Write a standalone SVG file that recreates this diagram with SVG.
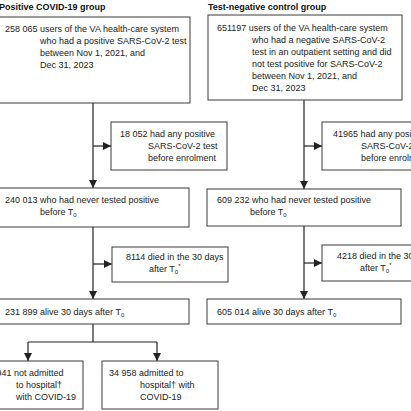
<svg xmlns="http://www.w3.org/2000/svg" width="411" height="411" viewBox="0 0 411 411">
<defs>
<marker id="ah" viewBox="0 0 8 8" refX="8" refY="4" markerWidth="8" markerHeight="8" markerUnits="userSpaceOnUse" orient="auto">
<path d="M0,0 L8,4 L0,8 Z" fill="#222"/>
</marker>
<style>
.box{fill:#fff;stroke:#3a3a3a;stroke-width:1}
.t{font-family:"Liberation Sans",Arial,sans-serif;font-size:9px;fill:#222}
.h{font-family:"Liberation Sans",Arial,sans-serif;font-size:9px;font-weight:bold;fill:#111}
.c{fill:none;stroke:#222;stroke-width:1.2}
.a{marker-end:url(#ah)}
.sub{font-size:6px}
</style>
</defs>
<rect width="411" height="411" fill="#fff"/>
<text class="h" x="-1" y="10">Positive COVID-19 group</text>
<text class="h" x="208" y="10">Test-negative control group</text>

<g id="connectors">
<path class="c a" d="M93,103 V188"/>
<path class="c a" d="M93,146 H111"/>
<path class="c a" d="M93,227 V299"/>
<path class="c a" d="M93,264 H112"/>
<path class="c" d="M93,324 V342 M28,342 H157"/>
<path class="c a" d="M28,342 V361"/>
<path class="c a" d="M157,342 V361"/>
<path class="c a" d="M304,100 V189"/>
<path class="c a" d="M304,146 H322"/>
<path class="c a" d="M304,226 V299"/>
<path class="c a" d="M304,263 H322"/>
</g>

<g id="n1">
<rect class="box" x="-10" y="17" width="200" height="86"/>
<text class="t" x="5" y="32">258 065 users of the VA health-care system</text>
<text class="t" x="40" y="44">who had a positive SARS-CoV-2 test</text>
<text class="t" x="40" y="56">between Nov 1, 2021, and</text>
<text class="t" x="40" y="68">Dec 31, 2023</text>
</g>
<g id="n2">
<rect class="box" x="111" y="122" width="116" height="48"/>
<text class="t" x="120" y="137">18 052 had any positive</text>
<text class="t" x="148" y="149">SARS-CoV-2 test</text>
<text class="t" x="148" y="161">before enrolment</text>
</g>
<g id="n3">
<rect class="box" x="-10" y="188" width="199" height="39"/>
<text class="t" x="5" y="203">240 013 who had never tested positive</text>
<text class="t" x="40" y="215">before T<tspan class="sub" dy="2">0</tspan></text>
</g>
<g id="n4">
<rect class="box" x="112" y="247" width="116" height="35"/>
<text class="t" x="126" y="260">8114 died in the 30 days</text>
<text class="t" x="149" y="272">after T<tspan class="sub" dy="2">0</tspan><tspan class="sub" dy="-6">*</tspan></text>
</g>
<g id="n5">
<rect class="box" x="-10" y="299" width="199" height="25"/>
<text class="t" x="5" y="315">231 899 alive 30 days after T<tspan class="sub" dy="2">0</tspan></text>
</g>
<g id="n6">
<rect class="box" x="-10" y="361" width="93" height="48"/>
<text class="t" x="-21" y="376">196 941 not admitted</text>
<text class="t" x="16" y="388">to hospital†</text>
<text class="t" x="16" y="400">with COVID-19</text>
</g>
<g id="n7">
<rect class="box" x="102" y="361" width="116" height="48"/>
<text class="t" x="109" y="376">34 958 admitted to</text>
<text class="t" x="140" y="388">hospital† with</text>
<text class="t" x="140" y="400">COVID-19</text>
</g>

<g id="m1">
<rect class="box" x="208" y="15" width="194" height="85"/>
<text class="t" x="217" y="31">651197 users of the VA health-care system</text>
<text class="t" x="252" y="43">who had a negative SARS-CoV-2</text>
<text class="t" x="252" y="55">test in an outpatient setting and did</text>
<text class="t" x="252" y="67">not test positive for SARS-CoV-2</text>
<text class="t" x="252" y="79">between Nov 1, 2021, and</text>
<text class="t" x="252" y="91">Dec 31, 2023</text>
</g>
<g id="m2">
<rect class="box" x="322" y="122" width="100" height="48"/>
<text class="t" x="333" y="137">41965 had any positive</text>
<text class="t" x="361" y="149">SARS-CoV-2 test</text>
<text class="t" x="361" y="161">before enrolment</text>
</g>
<g id="m3">
<rect class="box" x="207" y="189" width="194" height="37"/>
<text class="t" x="217" y="203">609 232 who had never tested positive</text>
<text class="t" x="250" y="215">before T<tspan class="sub" dy="2">0</tspan></text>
</g>
<g id="m4">
<rect class="box" x="322" y="245" width="100" height="36"/>
<text class="t" x="337" y="259">4218 died in the 30 days</text>
<text class="t" x="360" y="271">after T<tspan class="sub" dy="2">0</tspan><tspan class="sub" dy="-6">*</tspan></text>
</g>
<g id="m5">
<rect class="box" x="207" y="299" width="194" height="25"/>
<text class="t" x="217" y="315">605 014 alive 30 days after T<tspan class="sub" dy="2">0</tspan></text>
</g>
</svg>
